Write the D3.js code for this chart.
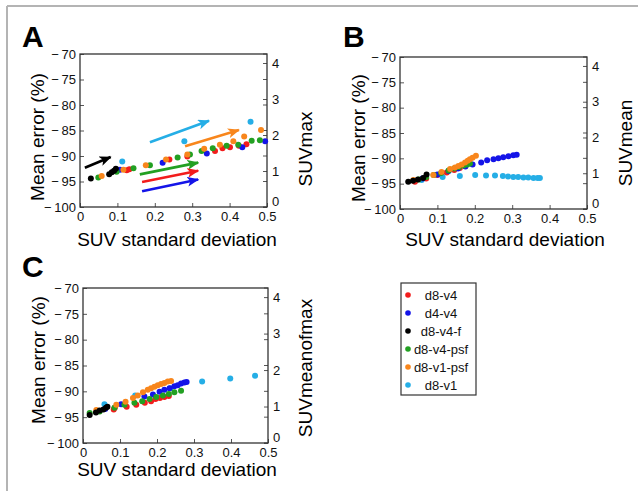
<!DOCTYPE html>
<html>
<head>
<meta charset="utf-8">
<script src="https://cdn.jsdelivr.net/npm/d3@7/dist/d3.min.js"></script>
<style>
  body { margin: 0; background: #fff; }
  svg { display: block; font-family: "Liberation Sans", Arial, Helvetica, sans-serif; }
</style>
</head>
<body>
<div id="chart"></div>
<script>
// legend / series
var seriesNames = ["d8-v4", "d4-v4", "d8-v4-f", "d8-v4-psf", "d8-v1-psf", "d8-v1"];
var seriesColors = ["#f21c1c", "#1414e8", "#000000", "#22a022", "#f8861c", "#25aee6"];

var xTicks = [0, 0.1, 0.2, 0.3, 0.4, 0.5];
var yTicks = [-100, -95, -90, -85, -80, -75, -70];
var y2Ticks = [0, 1, 2, 3, 4];

// A: SUVmax  (order follows seriesNames)  [SUV sd, mean error %]
var panelA = [
  [[0.125,-92.8],[0.132,-92.6],[0.239,-90.7],[0.287,-90.1],[0.361,-89.0],[0.381,-88.5],[0.401,-88.3],[0.425,-88.0],[0.445,-87.7]],
  [[0.107,-92.7],[0.221,-91.3],[0.339,-89.5],[0.434,-88.3],[0.495,-87.1]],
  [[0.029,-94.4],[0.078,-93.6],[0.085,-93.2],[0.091,-92.9],[0.096,-92.5]],
  [[0.049,-94.2],[0.098,-93.1],[0.143,-92.4],[0.187,-91.8],[0.261,-90.3],[0.294,-89.7],[0.325,-89.0],[0.355,-88.5],[0.392,-88.0],[0.423,-87.8],[0.459,-87.0],[0.481,-86.9]],
  [[0.058,-93.9],[0.116,-92.7],[0.176,-91.8],[0.230,-90.7],[0.287,-89.7],[0.332,-88.6],[0.374,-87.8],[0.410,-87.1],[0.439,-86.2],[0.484,-84.9]],
  [[0.113,-91.1],[0.279,-87.1],[0.456,-83.3]]
];

// arrows drawn in panel A: [x0, y0, x1, y1] in data units, colour index
var arrowsA = [
  [0.013, -92.3, 0.082, -90.2, 2],
  [0.187, -87.3, 0.345, -83.1, 5],
  [0.281, -88.1, 0.425, -84.9, 4],
  [0.160, -93.6, 0.316, -91.3, 3],
  [0.166, -95.1, 0.316, -92.9, 0],
  [0.166, -96.9, 0.316, -94.6, 1]
];

// B: SUVmean
var panelB = [
  [[0.040,-94.6],[0.070,-94.0],[0.100,-93.3],[0.125,-92.8],[0.145,-92.3],[0.160,-91.9],[0.174,-91.5]],
  [[0.060,-94.0],[0.100,-93.2],[0.130,-92.5],[0.155,-92.0],[0.175,-91.6],[0.194,-91.2],[0.217,-90.8],[0.233,-90.4],[0.250,-90.2],[0.263,-90.0],[0.276,-89.8],[0.290,-89.6],[0.303,-89.4],[0.312,-89.3]],
  [[0.022,-94.6],[0.035,-94.4],[0.048,-94.2],[0.062,-93.9],[0.071,-93.2]],
  [[0.050,-94.2],[0.070,-93.7],[0.090,-93.3],[0.110,-92.9],[0.130,-92.4],[0.145,-92.0],[0.158,-91.7],[0.170,-91.4],[0.180,-91.2],[0.187,-91.0]],
  [[0.036,-94.3],[0.089,-93.3],[0.111,-92.7],[0.134,-92.1],[0.147,-91.8],[0.156,-91.5],[0.165,-91.2],[0.174,-90.8],[0.181,-90.5],[0.187,-90.2],[0.194,-89.9],[0.203,-89.5]],
  [[0.058,-94.3],[0.114,-93.7],[0.160,-93.5],[0.201,-93.3],[0.230,-93.4],[0.254,-93.4],[0.275,-93.5],[0.289,-93.6],[0.303,-93.7],[0.316,-93.7],[0.330,-93.8],[0.343,-93.8],[0.357,-93.9],[0.368,-93.9],[0.374,-93.9]]
];

// C: SUVmeanofmax
var panelC = [
  [[0.083,-93.5],[0.086,-93.2],[0.118,-93.0],[0.144,-92.6],[0.167,-92.2],[0.184,-91.9],[0.196,-91.5],[0.208,-91.3],[0.220,-91.1],[0.232,-90.9]],
  [[0.060,-93.4],[0.103,-92.5],[0.166,-91.0],[0.189,-90.6],[0.207,-90.1],[0.220,-89.7],[0.234,-89.4],[0.247,-89.0],[0.256,-88.8],[0.265,-88.5],[0.274,-88.3],[0.280,-88.2]],
  [[0.018,-94.6],[0.035,-94.1],[0.045,-93.7],[0.055,-93.5],[0.062,-93.2],[0.066,-93.0]],
  [[0.018,-94.2],[0.045,-93.9],[0.085,-93.2],[0.112,-92.6],[0.139,-92.2],[0.160,-91.9],[0.180,-91.5],[0.198,-91.1],[0.216,-90.8],[0.232,-90.5],[0.247,-90.2],[0.265,-89.9]],
  [[0.036,-93.6],[0.090,-92.6],[0.115,-92.0],[0.135,-91.3],[0.148,-90.8],[0.162,-90.2],[0.175,-89.7],[0.184,-89.4],[0.193,-89.1],[0.202,-88.8],[0.211,-88.6],[0.220,-88.4],[0.229,-88.1],[0.238,-88.0]],
  [[0.058,-92.5],[0.141,-90.8],[0.236,-89.4],[0.322,-88.1],[0.398,-87.5],[0.465,-87.0]]
];

var drawOrder = [5, 0, 1, 3, 4, 2];

var width = 638, height = 491;

var svg = d3.select("#chart").append("svg")
    .attr("width", width)
    .attr("height", height);

// figure frame (top and left edge visible)
svg.append("line").attr("x1", 7).attr("y1", 6).attr("x2", width).attr("y2", 6)
    .attr("stroke", "#b4b4b4").attr("stroke-width", 2);
svg.append("line").attr("x1", 7).attr("y1", 6).attr("x2", 7).attr("y2", height)
    .attr("stroke", "#b4b4b4").attr("stroke-width", 2);

var defs = svg.append("defs");
seriesColors.forEach(function(c, i) {
  defs.append("marker")
    .attr("id", "arr" + i)
    .attr("viewBox", "0 0 12 10")
    .attr("refX", 11).attr("refY", 5)
    .attr("markerWidth", 12).attr("markerHeight", 10)
    .attr("markerUnits", "userSpaceOnUse")
    .attr("orient", "auto")
    .append("path")
    .attr("d", "M0,0 L12,5 L0,10 L3,5 Z")
    .attr("fill", c);
});

function drawPanel(cfg, data) {
  var x = d3.scaleLinear().domain([0, 0.5]).range([cfg.left, cfg.right]);
  var y = d3.scaleLinear().domain([-100, -70]).range([cfg.bottom, cfg.top]);
  var y2 = d3.scaleLinear().domain([0, 4.25]).range([cfg.bottom, cfg.top]);
  var g = svg.append("g");

  // axes, ticks inward
  var xa = g.append("g").attr("transform", "translate(0," + cfg.bottom + ")")
    .call(d3.axisBottom(x).tickValues(xTicks).tickSizeInner(-4).tickSizeOuter(0).tickPadding(5)
      .tickFormat(function(d) { return d === 0 ? "0" : d3.format(".1f")(d); }));
  var ya = g.append("g").attr("transform", "translate(" + cfg.left + ",0)")
    .call(d3.axisLeft(y).tickValues(yTicks).tickSizeInner(-4).tickSizeOuter(0).tickPadding(4)
      .tickFormat(function(d) { return "\u2212\u2009" + Math.abs(d); }));
  var ya2 = g.append("g").attr("transform", "translate(" + cfg.right + ",0)")
    .call(d3.axisRight(y2).tickValues(y2Ticks).tickSizeInner(-4).tickSizeOuter(0).tickPadding(5)
      .tickFormat(d3.format("d")));
  // mirrored left ticks on the right side
  g.selectAll(".mt").data(yTicks).join("line")
    .attr("x1", cfg.right - 4).attr("x2", cfg.right)
    .attr("y1", function(d) { return y(d); }).attr("y2", function(d) { return y(d); })
    .attr("stroke", "#555").attr("stroke-width", 1);

  [xa, ya, ya2].forEach(function(a) {
    a.select(".domain").remove();
    a.selectAll("line").attr("stroke", "#555");
    a.selectAll("text").attr("fill", "#111").style("font-size", "13px");
  });
  ya2.selectAll(".tick").filter(function(d) { return d === 0; }).select("text").attr("dy", "-0.1em");

  g.append("rect")
    .attr("x", cfg.left).attr("y", cfg.top)
    .attr("width", cfg.right - cfg.left).attr("height", cfg.bottom - cfg.top)
    .attr("fill", "none").attr("stroke", "#333").attr("stroke-width", 1.3);

  // points
  drawOrder.forEach(function(si) {
    g.append("g").selectAll("circle")
      .data(data[si])
      .join("circle")
      .attr("cx", function(d) { return x(d[0]); })
      .attr("cy", function(d) { return y(d[1]); })
      .attr("r", 3)
      .attr("fill", seriesColors[si]);
  });

  if (cfg.arrows) {
    g.selectAll(".arrow").data(cfg.arrows).join("line")
      .attr("x1", function(d) { return x(d[0]); })
      .attr("y1", function(d) { return y(d[1]); })
      .attr("x2", function(d) { return x(d[2]); })
      .attr("y2", function(d) { return y(d[3]); })
      .attr("stroke", function(d) { return seriesColors[d[4]]; })
      .attr("stroke-width", 2.6)
      .attr("marker-end", function(d) { return "url(#arr" + d[4] + ")"; });
  }

  // titles
  g.append("text").attr("x", cfg.letterX).attr("y", cfg.letterY).text(cfg.letter)
    .style("font-size", "30px").style("font-weight", "bold").attr("fill", "#000");
  g.append("text").attr("x", cfg.xTitleX).attr("y", cfg.xTitleY).text("SUV standard deviation")
    .attr("text-anchor", "middle").style("font-size", "19px").attr("fill", "#000");
  g.append("text").attr("transform", "translate(" + cfg.yTitleX + "," + cfg.yTitleY + ") rotate(-90)")
    .text("Mean error (%)").attr("text-anchor", "middle").style("font-size", "19px").attr("fill", "#000");
  g.append("text").attr("transform", "translate(" + cfg.y2TitleX + "," + cfg.y2TitleY + ") rotate(-90)")
    .text(cfg.y2Title).attr("text-anchor", "middle").style("font-size", "19px").attr("fill", "#000");
}

drawPanel({letter: "A", left: 80, right: 267, top: 54, bottom: 207, letterX: 22, letterY: 47,
  xTitleX: 177, xTitleY: 246, yTitleX: 44, yTitleY: 137, y2TitleX: 312, y2TitleY: 149,
  y2Title: "SUVmax", arrows: arrowsA}, panelA);
drawPanel({letter: "B", left: 400, right: 587, top: 57, bottom: 209, letterX: 343, letterY: 47,
  xTitleX: 505, xTitleY: 246, yTitleX: 365, yTitleY: 138, y2TitleX: 632, y2TitleY: 143,
  y2Title: "SUVmean"}, panelB);
drawPanel({letter: "C", left: 83, right: 268, top: 288, bottom: 443, letterX: 22, letterY: 277,
  xTitleX: 177, xTitleY: 476, yTitleX: 45, yTitleY: 360, y2TitleX: 312, y2TitleY: 368,
  y2Title: "SUVmeanofmax"}, panelC);

// legend
var lg = svg.append("g");
lg.append("rect").attr("x", 401).attr("y", 283).attr("width", 75).attr("height", 112)
  .attr("fill", "#fff").attr("stroke", "#333").attr("stroke-width", 1.2);
seriesNames.forEach(function(name, i) {
  var ly = 295 + i * 18;
  lg.append("circle").attr("cx", 408).attr("cy", ly).attr("r", 2.8).attr("fill", seriesColors[i]);
  lg.append("text").attr("x", 441).attr("y", ly).attr("dy", "0.35em").attr("text-anchor", "middle")
    .text(name).style("font-size", "13px").attr("fill", "#111");
});
</script>
</body>
</html>
